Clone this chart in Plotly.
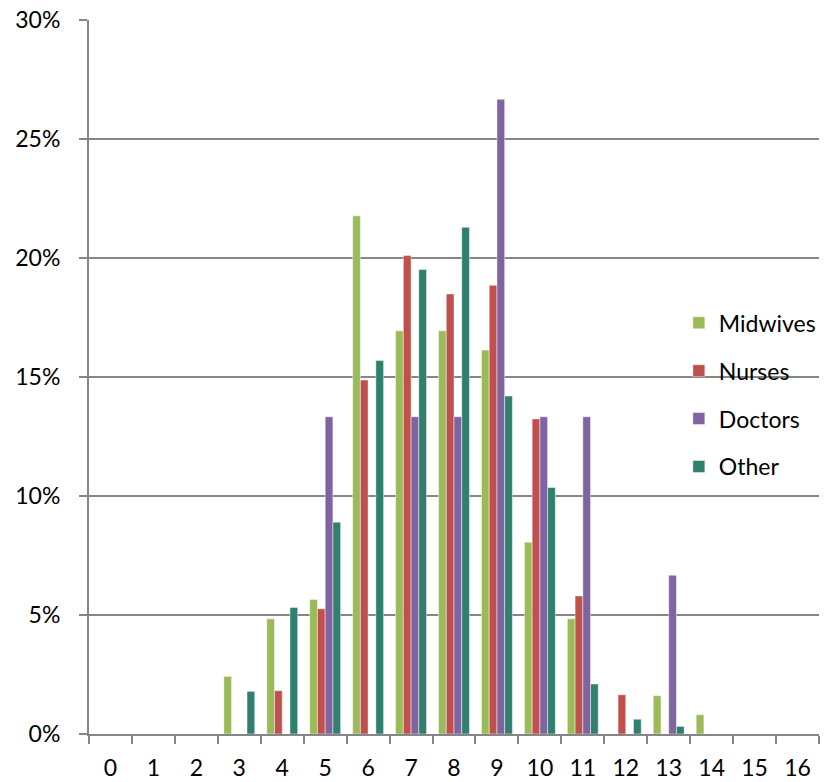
import plotly.graph_objects as go

# Category labels along the x axis
categories = [str(i) for i in range(17)]

# Share of each group per category (%)
midwives = [0, 0, 0, 2.42, 4.84, 5.65, 21.77, 16.94, 16.94, 16.13, 8.06, 4.84, 0, 1.61, 0.81, 0, 0]
nurses = [0, 0, 0, 0, 1.82, 5.26, 14.87, 20.10, 18.49, 18.85, 13.24, 5.80, 1.65, 0, 0, 0, 0]
doctors = [0, 0, 0, 0, 0, 13.33, 0, 13.33, 13.33, 26.67, 13.33, 13.33, 0, 6.67, 0, 0, 0]
other = [0, 0, 0, 1.79, 5.32, 8.90, 15.69, 19.52, 21.29, 14.20, 10.36, 2.10, 0.62, 0.32, 0, 0, 0]

series = [
    ("Midwives", midwives, "#9BBB59"),
    ("Nurses", nurses, "#C0504D"),
    ("Doctors", doctors, "#8064A2"),
    ("Other", other, "#31806D"),
]

y_ticks = [0, 5, 10, 15, 20, 25, 30]
y_labels = [f"{v}%" for v in y_ticks]

fig = go.Figure()
for name, vals, color in series:
    fig.add_trace(go.Bar(
        x=categories,
        y=vals,
        name=name,
        legendgroup=name,
        marker=dict(color=color, line=dict(color="rgba(255,255,255,0.45)", width=1)),
    ))

grid = "#868686"
font = dict(family="Lato, Open Sans, sans-serif", size=23, color="#000000")

fig.update_layout(
    width=832,
    height=782,
    autosize=False,
    margin=dict(l=89, r=13, t=20, b=48, autoexpand=False),
    paper_bgcolor="white",
    plot_bgcolor="white",
    barmode="group",
    bargap=0.28,
    bargroupgap=0,
    font=font,
    showlegend=True,
    legend=dict(
        x=0.808, y=0.606, xanchor="left", yanchor="top",
        bgcolor="rgba(0,0,0,0)",
        traceorder="grouped",
        tracegroupgap=15,
        font=font,
    ),
    xaxis=dict(
        type="category",
        categoryorder="array",
        categoryarray=categories,
        tickson="boundaries",
        ticks="outside",
        ticklen=8,
        tickwidth=2,
        tickcolor=grid,
        showline=True,
        linecolor=grid,
        linewidth=2,
        showgrid=False,
        automargin=False,
        ticklabelstandoff=12,
        tickfont=font,
    ),
    yaxis=dict(
        range=[0, 30],
        tickmode="array",
        tickvals=y_ticks,
        ticktext=y_labels,
        ticks="outside",
        ticklen=8,
        tickwidth=2,
        tickcolor=grid,
        showline=True,
        linecolor=grid,
        linewidth=2,
        showgrid=True,
        gridcolor=grid,
        gridwidth=2,
        zeroline=False,
        automargin=False,
        ticklabelstandoff=14,
        tickfont=font,
    ),
)

fig.write_html("out.html")
